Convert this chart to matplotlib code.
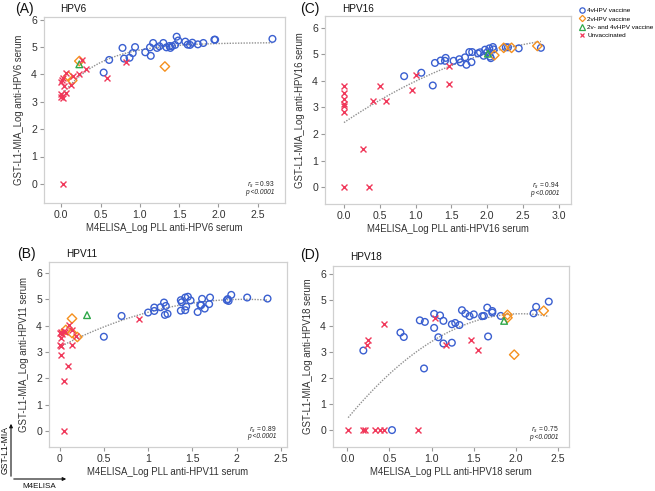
import numpy as np
import matplotlib
matplotlib.use("Agg")
import matplotlib.pyplot as plt
from matplotlib.lines import Line2D
from matplotlib.patches import FancyArrowPatch

# ---------------- data ----------------
# Panel A: HPV6
a_4v_x = [0.54,0.61,0.78,0.80,0.87,0.91,0.94,1.07,1.13,1.14,1.17,1.22,1.25,1.30,1.34,1.38,1.39,1.41,1.45,1.47,1.49,1.58,1.61,1.64,1.67,1.74,1.81,1.95,1.96,2.69]
a_4v_y = [4.07,4.53,4.97,4.58,4.61,4.78,5.00,4.81,4.99,4.68,5.15,4.97,5.03,5.15,4.99,5.04,4.97,5.03,5.08,5.38,5.24,5.20,5.09,5.08,5.16,5.10,5.15,5.27,5.27,5.30]
a_2v_x = [0.23,0.09,0.14,1.32]
a_2v_y = [4.49,3.93,3.78,4.29]
a_24_x = [0.23]
a_24_y = [4.37]
a_un_x = [0.27,0.32,0.23,0.06,0.15,0.02,0.01,0.00,0.03,0.12,0.06,0.00,0.00,0.02,0.82,0.58,0.02]
a_un_y = [4.51,4.20,4.01,4.05,3.95,3.88,3.78,3.71,3.57,3.63,3.33,3.28,3.18,3.13,4.45,3.87,0.00]

# Panel B: HPV11
b_4v_x = [0.50,0.70,1.00,1.07,1.07,1.14,1.18,1.20,1.19,1.22,1.37,1.38,1.37,1.42,1.43,1.42,1.45,1.48,1.56,1.60,1.61,1.59,1.64,1.69,1.70,1.89,1.90,1.91,1.94,2.12,2.35]
b_4v_y = [3.58,4.37,4.50,4.69,4.56,4.70,4.88,4.75,4.41,4.45,4.97,4.89,4.57,5.07,4.73,4.59,5.10,4.96,4.52,4.78,5.02,4.79,4.65,4.82,5.07,4.97,5.01,4.94,5.17,5.07,5.03]
b_2v_x = [0.14,0.07,0.14,0.20]
b_2v_y = [4.27,3.84,3.72,3.57]
b_24_x = [0.31]
b_24_y = [4.40]
b_un_x = [0.02,0.05,0.03,0.00,0.02,0.06,0.11,0.14,0.19,0.14,0.00,0.02,0.02,0.10,0.05,0.05,0.90]
b_un_y = [3.75,3.80,3.68,3.74,3.55,3.77,4.03,3.84,3.62,3.28,3.28,3.23,2.88,2.45,1.89,0.00,4.24]

# Panel C: HPV16
c_4v_x = [0.84,1.08,1.24,1.27,1.35,1.41,1.42,1.53,1.61,1.63,1.69,1.71,1.75,1.79,1.78,1.87,1.90,1.95,1.97,2.03,2.05,2.04,2.08,2.09,2.26,2.29,2.44,2.75,2.00]
c_4v_y = [4.18,4.31,3.83,4.68,4.77,4.76,4.87,4.76,4.82,4.70,4.89,4.61,5.09,5.09,4.71,5.04,5.08,4.95,5.18,5.23,4.86,4.92,5.28,5.19,5.27,5.27,5.23,5.25,5.08]
c_2v_x = [2.10,2.23,2.34,2.70]
c_2v_y = [4.97,5.25,5.25,5.32]
c_24_x = [2.01]
c_24_y = [5.03]
c_un_x = [0.00,0.00,0.00,0.00,0.00,0.00,0.50,0.40,0.59,0.95,1.00,1.47,1.46,0.27,0.00,0.35]
c_un_y = [3.81,3.55,3.33,3.14,3.06,2.82,3.81,3.26,3.26,3.67,4.23,3.89,4.57,1.43,0.00,0.00]

# Panel D: HPV18
d_4v_x = [0.19,0.53,0.63,0.67,0.86,0.92,0.91,1.03,1.03,1.10,1.08,1.14,1.14,1.24,1.24,1.28,1.33,1.36,1.40,1.45,1.50,1.60,1.62,1.66,1.67,1.72,1.72,1.82,2.21,2.24,2.39]
d_4v_y = [3.06,0.00,3.75,3.58,4.22,4.16,2.37,4.47,3.93,4.41,3.57,4.20,3.33,4.07,3.36,4.12,4.04,4.61,4.48,4.38,4.45,4.38,4.39,4.71,3.60,4.58,4.52,4.39,4.49,4.74,4.94]
d_2v_x = [1.90,1.90,2.33,1.98]
d_2v_y = [4.43,4.32,4.59,2.90]
d_24_x = [1.86]
d_24_y = [4.20]
d_un_x = [0.44,0.25,0.23,1.04,1.17,1.47,1.55,0.01,0.18,0.21,0.33,0.39,0.43,0.84]
d_un_y = [4.08,3.47,3.29,4.32,3.29,3.45,3.08,0.00,0.00,0.00,0.00,0.00,0.00,0.00]

panel_letters = ["(A)", "(B)", "(C)", "(D)"]
panel_types = ["HPV6", "HPV11", "HPV16", "HPV18"]
rs_values = ["0.93", "0.89", "0.94", "0.75"]
group_labels = ["4vHPV vaccine", "2vHPV vaccine", "2v- and 4vHPV vaccine", "Unvaccinated"]
fit_models = ["saturating", "quadratic", "quadratic", "quadratic"]

x_ticks = [[0.0, 0.5, 1.0, 1.5, 2.0, 2.5],
           [0, 0.5, 1, 1.5, 2, 2.5],
           [0.0, 0.5, 1.0, 1.5, 2.0, 2.5, 3.0],
           [0.0, 0.5, 1.0, 1.5, 2.0, 2.5]]
x_ticklabels = [["0.0", "0.5", "1.0", "1.5", "2.0", "2.5"],
                ["0", "0.5", "1", "1.5", "2", "2.5"],
                ["0.0", "0.5", "1.0", "1.5", "2.0", "2.5", "3.0"],
                ["0.0", "0.5", "1.0", "1.5", "2.0", "2.5"]]

data = [
    (a_4v_x, a_4v_y, a_2v_x, a_2v_y, a_24_x, a_24_y, a_un_x, a_un_y),
    (b_4v_x, b_4v_y, b_2v_x, b_2v_y, b_24_x, b_24_y, b_un_x, b_un_y),
    (c_4v_x, c_4v_y, c_2v_x, c_2v_y, c_24_x, c_24_y, c_un_x, c_un_y),
    (d_4v_x, d_4v_y, d_2v_x, d_2v_y, d_24_x, d_24_y, d_un_x, d_un_y),
]


def fit_curve(x, y, model):
    if model == "quadratic":
        coef = np.polyfit(x, y, 2)
        return lambda t: np.polyval(coef, t)
    # saturating: y = A - B*exp(-k x), grid search on k
    best = None
    for k in np.linspace(0.05, 4.0, 400):
        M = np.column_stack([np.ones_like(x), -np.exp(-k * x)])
        coef, *_ = np.linalg.lstsq(M, y, rcond=None)
        sse = np.sum((M @ coef - y) ** 2)
        if best is None or sse < best[0]:
            best = (sse, k, coef)
    _, k, (A, B) = best
    return lambda t: A - B * np.exp(-k * t)


# ---------------- style ----------------
W, H = 655, 491
fig = plt.figure(figsize=(W / 100, H / 100), dpi=100)
plt.rcParams['font.family'] = ['Liberation Sans', 'DejaVu Sans']

BLUE = "#3a5fd0"
ORANGE = "#f5901e"
GREEN = "#2fa84a"
RED = "#f0385a"
SPINE = "#d0d0d0"


def px_rect(l, t, r, b):
    return [l / W, 1 - b / H, (r - l) / W, (b - t) / H]


rects = [px_rect(44, 17, 285, 203), px_rect(49, 262, 287, 447),
         px_rect(325, 16, 571, 204), px_rect(333, 266, 569, 447)]
xlims = [(-0.22, 2.85), (-0.12, 2.57), (-0.265, 3.17), (-0.17, 2.63)]
ylims = [(-0.7, 6.1), (-0.61, 6.42), (-0.64, 6.45), (-0.65, 6.31)]
letter_pos = [(15, 9), (17, 254), (300, 9), (300, 255)]
title_pos = [(60, 9), (66, 254), (342, 9), (350, 257)]

ms = 23
for i in range(4):
    ax = fig.add_axes(rects[i])
    x4, y4, x2, y2, x24, y24, xu, yu = data[i]
    ax.scatter(x4, y4, s=ms, marker='o', facecolors='none', edgecolors=BLUE, linewidths=1.0, zorder=3)
    ax.scatter(x2, y2, s=ms, marker='D', facecolors='none', edgecolors=ORANGE, linewidths=1.0, zorder=3)
    ax.scatter(x24, y24, s=ms, marker='^', facecolors='none', edgecolors=GREEN, linewidths=1.0, zorder=3)
    ax.scatter(xu, yu, s=ms * 0.8, marker='x', color=RED, linewidths=1.0, zorder=3)

    allx = np.array(list(x4) + list(x2) + list(x24) + list(xu), dtype=float)
    ally = np.array(list(y4) + list(y2) + list(y24) + list(yu), dtype=float)
    f = fit_curve(allx, ally, fit_models[i])
    xs = np.linspace(allx.min(), allx.max(), 100)
    ax.plot(xs, f(xs), linestyle=(0, (1, 1)), color="#909090", linewidth=1.0, zorder=2)

    ax.set_xlim(*xlims[i])
    ax.set_ylim(*ylims[i])
    ax.set_xticks(x_ticks[i])
    ax.set_xticklabels(x_ticklabels[i])
    ax.set_yticks([0, 1, 2, 3, 4, 5, 6])
    for s in ax.spines.values():
        s.set_color(SPINE)
        s.set_linewidth(0.9)
    ax.tick_params(axis='both', colors="#999999", labelcolor="#333333", labelsize=7.6,
                   length=3, width=0.8, pad=2)
    ax.set_xlabel("M4ELISA_Log PLL anti-%s serum" % panel_types[i], fontsize=6.9,
                  color="#333333", labelpad=2)
    ax.set_ylabel("GST-L1-MIA_Log anti-%s serum" % panel_types[i], fontsize=6.9,
                  color="#333333", labelpad=5)
    ax.text(0.955, 0.095, r"$r_s$ = " + rs_values[i], transform=ax.transAxes,
            ha='right', va='center', fontsize=4.8, color="#222222")
    ax.text(0.955, 0.055, "p <0.0001", transform=ax.transAxes, style='italic',
            ha='right', va='center', fontsize=4.8, color="#222222")

    lx, ly = letter_pos[i]
    fig.text(lx / W, 1 - ly / H, panel_letters[i], fontsize=10, ha='left', va='center', color="#111111")
    tx, ty = title_pos[i]
    fig.text(tx / W, 1 - ty / H, panel_types[i], fontsize=7.2, ha='left', va='center', color="#111111")

# legend
handles = [
    Line2D([], [], marker='o', linestyle='none', markerfacecolor='none', markeredgecolor=BLUE, markersize=3.8, markeredgewidth=0.9),
    Line2D([], [], marker='D', linestyle='none', markerfacecolor='none', markeredgecolor=ORANGE, markersize=3.2, markeredgewidth=0.9),
    Line2D([], [], marker='^', linestyle='none', markerfacecolor='none', markeredgecolor=GREEN, markersize=3.8, markeredgewidth=0.9),
    Line2D([], [], marker='x', linestyle='none', color=RED, markersize=3.3, markeredgewidth=0.9),
]
fig.legend(handles, group_labels, loc='upper left', bbox_to_anchor=(579 / W, 1 - 8 / H),
           frameon=False, fontsize=4.6, handlelength=0.8, handletextpad=0.5,
           labelspacing=0.42, borderpad=0, borderaxespad=0)

# inset axis-direction arrows
fig.add_artist(FancyArrowPatch((11 / W, 1 - 479 / H), (11 / W, 1 - 421 / H),
               transform=fig.transFigure, arrowstyle='-|>', mutation_scale=5, color='#111111', linewidth=0.8))
fig.add_artist(FancyArrowPatch((11 / W, 1 - 479 / H), (69 / W, 1 - 479 / H),
               transform=fig.transFigure, arrowstyle='-|>', mutation_scale=5, color='#111111', linewidth=0.8))
fig.text(5 / W, 1 - 450 / H, "GST-L1-MIA", rotation=90, fontsize=6.2, ha='center', va='center', color="#111111")
fig.text(39 / W, 1 - 486 / H, "M4ELISA", fontsize=5.8, ha='center', va='center', color="#111111")

fig.savefig("out.png", dpi=100)
